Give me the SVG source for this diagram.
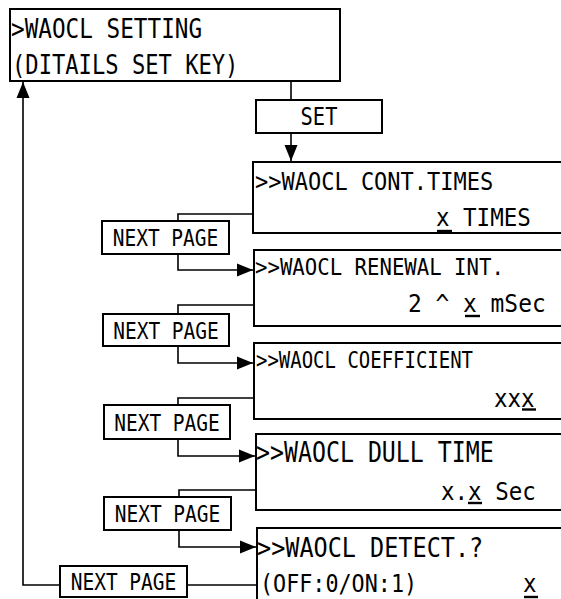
<svg xmlns="http://www.w3.org/2000/svg" width="561" height="599" viewBox="0 0 561 599">
<defs>
<style>
.box{fill:#fff;stroke:#000;stroke-width:2}
.btn{fill:#fff;stroke:#000;stroke-width:2}
.ln{fill:none;stroke:#000;stroke-width:1.6}
text{font-family:"DejaVu Sans Mono","Liberation Mono",monospace;fill:#000}
.ul{stroke:#000;stroke-width:2.4}
</style>
<marker id="ah" markerUnits="userSpaceOnUse" markerWidth="17" markerHeight="14" refX="16" refY="7" orient="auto">
<path d="M0,0.5 L16,7 L0,13.5 z" fill="#000"/>
</marker>
</defs>
<rect width="561" height="599" fill="#fff"/>

<g id="connectors">
<line class="ln" x1="291" y1="81" x2="291" y2="100"/>
<line class="ln" x1="291" y1="133" x2="291" y2="161" marker-end="url(#ah)"/>
<polyline class="ln" points="253,214 178,214 178,221"/>
<polyline class="ln" points="178,254 178,270 253,270" marker-end="url(#ah)"/>
<polyline class="ln" points="254,305 178,305 178,314"/>
<polyline class="ln" points="178,346 178,363 253,363" marker-end="url(#ah)"/>
<polyline class="ln" points="254,398 178,398 178,405"/>
<polyline class="ln" points="178,439 178,456 255,456" marker-end="url(#ah)"/>
<polyline class="ln" points="256,490 179,490 179,497"/>
<polyline class="ln" points="179,530 179,547 256,547" marker-end="url(#ah)"/>
<line class="ln" x1="257" y1="585" x2="187" y2="585"/>
<polyline class="ln" points="60,585 23,585 23,82" marker-end="url(#ah)"/>
</g>

<g id="n-setting">
<rect class="box" x="10" y="9" width="330" height="72"/>
<g transform="translate(11,38) scale(0.84,1)"><text font-size="27">&gt;WAOCL SETTING</text></g>
<g transform="translate(12,74) scale(0.82,1)"><text font-size="27">(DITAILS SET KEY)</text></g>
</g>

<g id="n-set">
<rect class="btn" x="256" y="100" width="126" height="33"/>
<g transform="translate(319,125) scale(0.85,1)"><text font-size="24" text-anchor="middle">SET</text></g>
</g>

<g id="n-cont">
<rect class="box" x="253" y="162" width="360" height="71"/>
<g transform="translate(255,190) scale(0.88,1)"><text font-size="25">&gt;&gt;WAOCL CONT.TIMES</text></g>
<g transform="translate(436,226) scale(0.9,1)"><text font-size="25">x TIMES</text></g>
<line class="ul" x1="437" y1="231" x2="452" y2="231"/>
</g>

<g id="np1">
<rect class="btn" x="102" y="221" width="127" height="33"/>
<g transform="translate(165.5,246) scale(0.83,1)"><text font-size="23.5" text-anchor="middle">NEXT PAGE</text></g>
</g>

<g id="n-renewal">
<rect class="box" x="254" y="250" width="360" height="76"/>
<g transform="translate(255,275) scale(0.88,1)"><text font-size="23.5">&gt;&gt;WAOCL RENEWAL INT.</text></g>
<g transform="translate(408,312) scale(0.915,1)"><text font-size="25">2 ^ x mSec</text></g>
<line class="ul" x1="465" y1="316" x2="480" y2="316"/>
</g>

<g id="np2">
<rect class="btn" x="103" y="314" width="126" height="32"/>
<g transform="translate(166,339) scale(0.83,1)"><text font-size="23.5" text-anchor="middle">NEXT PAGE</text></g>
</g>

<g id="n-coef">
<rect class="box" x="254" y="343" width="360" height="76"/>
<g transform="translate(256,368) scale(0.84,1)"><text font-size="22.6">&gt;&gt;WAOCL COEFFICIENT</text></g>
<g transform="translate(494,407) scale(0.9,1)"><text font-size="25">xxx</text></g>
<line class="ul" x1="522" y1="409.5" x2="536" y2="409.5"/>
</g>

<g id="np3">
<rect class="btn" x="104" y="405" width="126" height="34"/>
<g transform="translate(167,431) scale(0.83,1)"><text font-size="23.5" text-anchor="middle">NEXT PAGE</text></g>
</g>

<g id="n-dull">
<rect class="box" x="256" y="434" width="360" height="76"/>
<g transform="translate(256,462) scale(0.83,1)"><text font-size="28">&gt;&gt;WAOCL DULL TIME</text></g>
<g transform="translate(441,500) scale(0.9,1)"><text font-size="25">x.x Sec</text></g>
<line class="ul" x1="468" y1="503" x2="482" y2="503"/>
</g>

<g id="np4">
<rect class="btn" x="104" y="497" width="127" height="33"/>
<g transform="translate(167.5,522) scale(0.83,1)"><text font-size="23.5" text-anchor="middle">NEXT PAGE</text></g>
</g>

<g id="n-detect">
<rect class="box" x="257" y="528" width="360" height="90"/>
<g transform="translate(257,557) scale(0.87,1)"><text font-size="27">&gt;&gt;WAOCL DETECT.?</text></g>
<g transform="translate(260,592) scale(0.87,1)"><text font-size="25">(OFF:0/ON:1)</text></g>
<g transform="translate(523,592) scale(0.9,1)"><text font-size="25">x</text></g>
<line class="ul" x1="524" y1="597" x2="538" y2="597"/>
</g>

<g id="np5">
<rect class="btn" x="60" y="566" width="127" height="31"/>
<g transform="translate(123.5,590) scale(0.83,1)"><text font-size="23.5" text-anchor="middle">NEXT PAGE</text></g>
</g>
</svg>
